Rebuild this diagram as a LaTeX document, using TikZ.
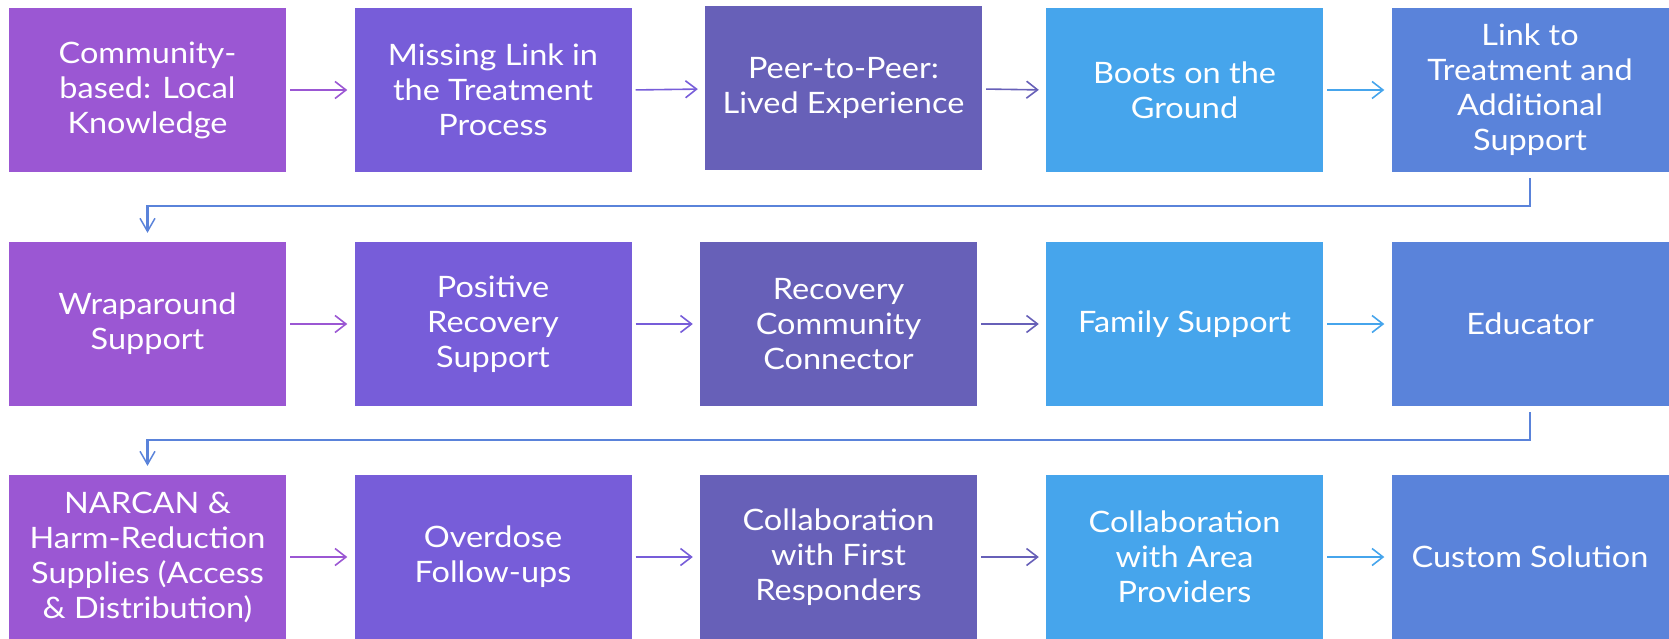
\documentclass[tikz,border=0pt]{standalone}
\usepackage{fontspec}
\setmainfont{Lato}
\newfontfamily\boxfont[FakeStretch=1.1]{Lato}
\usetikzlibrary{arrows.meta}
\definecolor{cA}{HTML}{9B57D3}
\definecolor{cB}{HTML}{775DD9}
\definecolor{cC}{HTML}{6760B8}
\definecolor{cD}{HTML}{46A5EC}
\definecolor{cE}{HTML}{5A83DA}
\tikzset{
  box/.style={draw=none, minimum width=277pt, minimum height=164pt, inner sep=0pt,
    align=center, text=white, font=\boxfont\fontsize{29.5}{35}\selectfont},
  flow/.style={line width=1.6pt, -{Straight Barb[length=11pt,width=17pt,line width=1.6pt]},
    shorten <=4pt, shorten >=7pt},
  wrap/.style={line width=2.2pt, draw=cE, -{Straight Barb[length=13pt,width=15pt,line width=1.5pt]},
    shorten <=6pt, shorten >=9pt}
}
\begin{document}
\begin{tikzpicture}[x=1pt,y=-1pt]
\useasboundingbox (0,0) rectangle (1669,639);
% row 1
\node[box, fill=cA] (a1) at (147.5,90) {Community-\\based: Local\\Knowledge};
\node[box, fill=cB] (a2) at (493,90) {Missing Link in\\the Treatment\\Process};
\node[box, fill=cC] (a3) at (843.5,88) {Peer-to-Peer:\\Lived Experience};
\node[box, fill=cD] (a4) at (1184.5,90) {Boots on the\\Ground};
\node[box, fill=cE] (a5) at (1530,90) {Link to\\Treatment and\\Additional\\Support};
% row 2
\node[box, fill=cA] (b1) at (147.5,324) {Wraparound\\Support};
\node[box, fill=cB] (b2) at (493,324) {Positive\\Recovery\\Support};
\node[box, fill=cC] (b3) at (838.5,324) {Recovery\\Community\\Connector};
\node[box, fill=cD] (b4) at (1184.5,324) {Family Support};
\node[box, fill=cE] (b5) at (1530,324) {Educator};
% row 3
\node[box, fill=cA] (c1) at (147.5,557) {NARCAN \&\\Harm-Reduction\\Supplies (Access\\\& Distribution)};
\node[box, fill=cB] (c2) at (493,557) {Overdose\\Follow-ups};
\node[box, fill=cC] (c3) at (838.5,557) {Collaboration\\with First\\Responders};
\node[box, fill=cD] (c4) at (1184.5,557) {Collaboration\\with Area\\Providers};
\node[box, fill=cE] (c5) at (1530,557) {Custom Solution};
% row 1 arrows
\draw[flow, draw=cA] (a1.east |- 0,90) -- (a2.west |- 0,90);
\draw[flow, draw=cB] (a2.east |- 0,90) -- (a3.west |- 0,89);
\draw[flow, draw=cC] (a3.east |- 0,89) -- (a4.west |- 0,90);
\draw[flow, draw=cD] (a4.east |- 0,90) -- (a5.west |- 0,90);
% row 2 arrows
\draw[flow, draw=cA] (b1) -- (b2);
\draw[flow, draw=cB] (b2) -- (b3);
\draw[flow, draw=cC] (b3) -- (b4);
\draw[flow, draw=cD] (b4) -- (b5);
% row 3 arrows
\draw[flow, draw=cA] (c1) -- (c2);
\draw[flow, draw=cB] (c2) -- (c3);
\draw[flow, draw=cC] (c3) -- (c4);
\draw[flow, draw=cD] (c4) -- (c5);
% wrap connectors
\draw[wrap] (a5.south) -- ++(0,34) -| (b1.north);
\draw[wrap] (b5.south) -- ++(0,34) -| (c1.north);
\end{tikzpicture}
\end{document}
